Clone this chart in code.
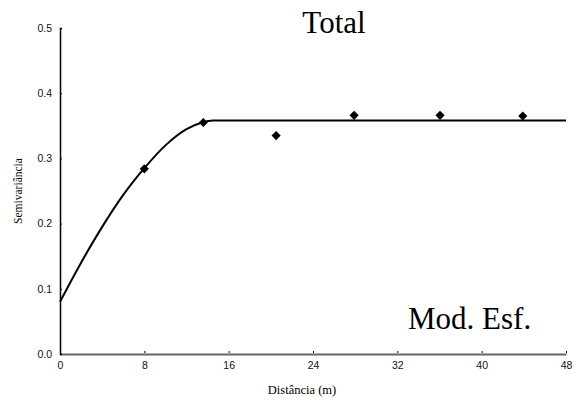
<!DOCTYPE html>
<html>
<head>
<meta charset="utf-8">
<script src="https://cdn.jsdelivr.net/npm/d3@7"></script>
<style>
  body { margin: 0; background: #fff; }
  svg { display: block; }
  .serif { font-family: 'Liberation Serif', 'Times New Roman', 'DejaVu Serif', serif; }
  .sans { font-family: 'Liberation Sans', Arial, sans-serif; }
</style>
</head>
<body>
<script>
// observed semivariances
const lagDistance = [8.0, 13.6, 20.5, 27.9, 36.05, 43.9];
const semivariance = [0.284, 0.355, 0.335, 0.366, 0.366, 0.365];

// fitted spherical model
const modelDistance = [0, 2, 4, 6, 8, 10, 12, 13.5, 14.5, 48];
const modelValue = [0.080, 0.140, 0.195, 0.244, 0.285, 0.320, 0.345, 0.355, 0.358, 0.358];

const xTicks = [0, 8, 16, 24, 32, 40, 48];
const yTicks = [0.0, 0.1, 0.2, 0.3, 0.4, 0.5];

const width = 579;
const height = 401;
const margin = { top: 28, right: 13, bottom: 47, left: 60 };

const svg = d3
  .select('body')
  .append('svg')
  .attr('width', width)
  .attr('height', height);

const x = d3
  .scaleLinear()
  .domain([0, 48])
  .range([margin.left, width - margin.right]);

const y = d3
  .scaleLinear()
  .domain([0, 0.5])
  .range([height - margin.bottom, margin.top]);

// x axis (grey, thick)
const xAxis = svg
  .append('g')
  .attr('transform', 'translate(0,' + y(0) + ')')
  .call(
    d3
      .axisBottom(x)
      .tickValues(xTicks)
      .tickSize(0)
      .tickPadding(8)
      .tickFormat(d3.format('d'))
  );
xAxis.attr('font-family', null).attr('class', 'sans');
xAxis.select('.domain').attr('stroke', '#666').attr('stroke-width', 2);
xAxis
  .selectAll('.tick')
  .append('line')
  .attr('y1', -1)
  .attr('y2', -3)
  .attr('stroke', '#000');
xAxis
  .selectAll('text')
  .attr('fill', '#111')
  .attr('font-size', 10.5);

// y axis
const yAxis = svg
  .append('g')
  .attr('transform', 'translate(' + x(0) + ',0)')
  .call(
    d3
      .axisLeft(y)
      .tickValues(yTicks)
      .tickSize(-2)
      .tickPadding(8)
      .tickFormat(d3.format('.1f'))
  );
yAxis.attr('font-family', null).attr('class', 'sans');
yAxis.select('.domain').attr('stroke', '#000').attr('stroke-width', 1.5);
yAxis
  .selectAll('text')
  .attr('fill', '#111')
  .attr('font-size', 10.5);

// axis titles
svg
  .append('text')
  .attr('class', 'serif')
  .attr('x', 302)
  .attr('y', 394)
  .attr('text-anchor', 'middle')
  .attr('font-size', 12.5)
  .text('Distância (m)');

svg
  .append('text')
  .attr('class', 'serif')
  .attr('transform', 'translate(22,191) rotate(-90)')
  .attr('text-anchor', 'middle')
  .attr('font-size', 11.5)
  .text('Semivariância');

// model curve
const line = d3
  .line()
  .x(function(d, i) {
    return x(modelDistance[i]);
  })
  .y(function(d) {
    return y(d);
  })
  .curve(d3.curveMonotoneX);

svg
  .append('path')
  .datum(modelValue)
  .attr('d', line)
  .attr('fill', 'none')
  .attr('stroke', '#000')
  .attr('stroke-width', 2);

// points (diamonds)
const diamond = d3.symbol().type(d3.symbolSquare).size(42);
svg
  .append('g')
  .selectAll('path')
  .data(semivariance)
  .enter()
  .append('path')
  .attr('d', diamond)
  .attr('transform', function(d, i) {
    return 'translate(' + x(lagDistance[i]) + ',' + y(d) + ') rotate(45)';
  })
  .attr('fill', '#000');

// labels
svg
  .append('text')
  .attr('class', 'serif')
  .attr('x', 334)
  .attr('y', 33)
  .attr('text-anchor', 'middle')
  .attr('font-size', 31)
  .text('Total');

svg
  .append('text')
  .attr('class', 'serif')
  .attr('x', 408)
  .attr('y', 329)
  .attr('font-size', 31)
  .text('Mod. Esf.');
</script>
</body>
</html>
